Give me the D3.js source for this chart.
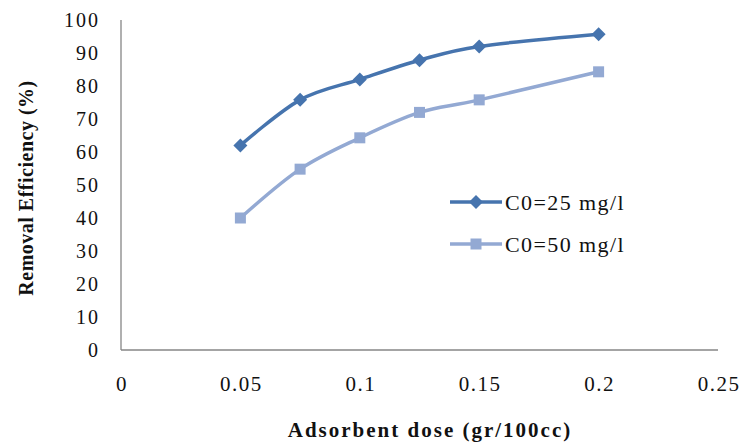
<!DOCTYPE html>
<html><head><meta charset="utf-8">
<script src="https://cdn.jsdelivr.net/npm/d3@7"></script>
<style>body{margin:0;background:#fff}svg{display:block}</style>
</head><body><svg id="c" width="742" height="445"></svg>
<script>
const doses = [0.05, 0.075, 0.1, 0.125, 0.15, 0.2];
const series1 = [62, 75.8, 82, 87.8, 92, 95.7];
const series2 = [40, 54.8, 64.3, 72, 75.8, 84.3];
const seriesNames = ["C0=25 mg/l", "C0=50 mg/l"];
const xTicks = [0, 0.05, 0.1, 0.15, 0.2, 0.25];
const yTicks = [0,10,20,30,40,50,60,70,80,90,100];
const xTitle = "Adsorbent dose (gr/100cc)";
const yTitle = "Removal Efficiency (%)";

const FONT = "Liberation Serif";
const svg = d3.select("#c");
const x = d3.scaleLinear().domain([0,0.25]).range([121,718]);
const y = d3.scaleLinear().domain([0,100]).range([350,20]);
const axisColor = "#868686";
const colors = ["#4674AE", "#93A9D3"];

svg.append("line").attr("x1",x(0)).attr("x2",x(0.25)).attr("y1",y(0)).attr("y2",y(0)).attr("stroke",axisColor).attr("stroke-width",1.3);
svg.append("line").attr("x1",x(0)).attr("x2",x(0)).attr("y1",y(0)).attr("y2",y(100)).attr("stroke",axisColor).attr("stroke-width",1.3);

svg.selectAll(".yt").data(yTicks).join("text").attr("x",100).attr("y",d=>y(d)).attr("dy","0.35em")
  .attr("font-family",FONT).attr("letter-spacing",2)
  .attr("text-anchor","end").attr("font-size",20).attr("fill","#111").text(d=>d);
svg.selectAll(".xt").data(xTicks).join("text").attr("x",d=>x(d)+1).attr("y",384).attr("dy","0.35em")
  .attr("font-family",FONT).attr("letter-spacing",1.5)
  .attr("text-anchor","middle").attr("font-size",21).attr("fill","#111").text(d=>d);

svg.append("text").attr("x",430).attr("y",437).attr("text-anchor","middle").attr("font-family",FONT).attr("font-size",21).attr("letter-spacing",2).attr("font-weight","bold").attr("fill","#111").text(xTitle);
svg.append("text").attr("transform","translate(33,188) rotate(-90)").attr("text-anchor","middle").attr("font-family",FONT).attr("font-size",20).attr("letter-spacing",0.5).attr("font-weight","bold").attr("fill","#111").text(yTitle);

const line = d3.line().x(d=>x(d[0])).y(d=>y(d[1])).curve(d3.curveCatmullRom.alpha(0));
const data = [series1, series2].map(s=>doses.map((d,i)=>[d,s[i]]));

data.forEach((pts,k)=>{
  svg.append("path").attr("d",line(pts)).attr("fill","none").attr("stroke",colors[k]).attr("stroke-width",3.5);
});
function marker(g,k,cx,cy){
  if(k===0){
    const r=7;
    g.append("path").attr("d",`M${cx},${cy-r}L${cx+r},${cy}L${cx},${cy+r}L${cx-r},${cy}Z`).attr("fill",colors[0]);
  } else {
    const s=11;
    g.append("rect").attr("x",cx-s/2).attr("y",cy-s/2).attr("width",s).attr("height",s).attr("fill",colors[1]);
  }
}
data.forEach((pts,k)=>{
  const g=svg.append("g");
  pts.forEach(p=>marker(g,k,x(p[0]),y(p[1])));
});

const legY=[202,244];
seriesNames.forEach((n,k)=>{
  svg.append("line").attr("x1",450).attr("x2",502).attr("y1",legY[k]).attr("y2",legY[k]).attr("stroke",colors[k]).attr("stroke-width",3.5);
  marker(svg,k,476,legY[k]);
  svg.append("text").attr("x",505).attr("y",legY[k]).attr("dy","0.35em").attr("font-family",FONT).attr("font-size",22).attr("letter-spacing",1.4).attr("fill","#111").text(n);
});
</script></body></html>
